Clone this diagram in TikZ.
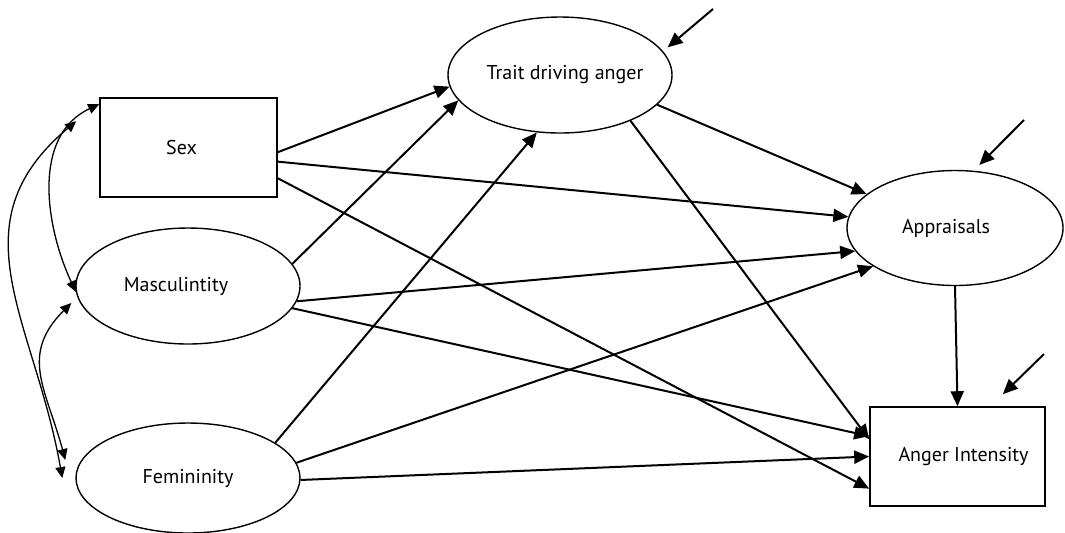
\documentclass[tikz,border=0pt]{standalone}
\usepackage{fontspec}
\setmainfont{PT Sans}
\usetikzlibrary{shapes.geometric,arrows.meta}
\begin{document}
\begin{tikzpicture}[x=0.5pt,y=-0.5pt,
    latent/.style={ellipse,draw,line width=0.7pt,inner sep=0pt,font=\fontsize{10}{12}\selectfont},
    obs/.style={rectangle,draw,line width=0.8pt,inner sep=0pt,font=\fontsize{10}{12}\selectfont},
    pth/.style={-{Triangle[length=7.5pt,width=6.5pt]},line width=1pt},
    cov/.style={{Triangle[length=5.5pt,width=5pt]}-{Triangle[length=5.5pt,width=5pt]},line width=0.65pt}]
    \useasboundingbox (0,0) rectangle (1065,532);
    % variables
    \node[obs,minimum width=88.5pt,minimum height=49.5pt] (sex) at (188.5,147.5) {\hspace*{-7pt}Sex};
    \node[latent,minimum width=112pt,minimum height=58pt] (masc) at (188,286) {\hspace*{-12pt}Masculintity};
    \node[latent,minimum width=112pt,minimum height=55pt] (fem) at (188,478) {Femininity};
    \node[latent,minimum width=112pt,minimum height=58pt] (trait) at (560,75) {Trait driving anger\hspace*{-5pt}};
    \node[latent,minimum width=108pt,minimum height=57.5pt] (appr) at (955,228) {\hspace*{-9pt}Appraisals};
    \node[obs,minimum width=87.5pt,minimum height=49.5pt] (anger) at (957.5,456.5) {Anger Intensity\hspace*{-6pt}};
    % paths
    \draw[pth] (sex.-3) -- (trait.186);
    \draw[pth] (sex.-9) -- (appr.174);
    \draw[pth] (sex.-19) -- (anger.200);
    \draw[pth] (masc.12) -- (trait.194);
    \draw[pth] (masc.-8) -- (appr.193);
    \draw[pth] (masc.-12) -- (anger.167);
    \draw[pth] (fem.22) -- (trait.248);
    \draw[pth] (fem.8) -- (appr.205);
    \draw[pth] (fem.-1) -- (anger.west);
    \draw[pth] (trait.-17) -- (appr.159);
    \draw[pth] (trait.-33) -- (anger.169);
    \draw[pth] (appr.south) -- (anger.north);
    % covariances
    \draw[cov] ([yshift=-3.5pt]sex.north west) to[out=205,in=115] (masc.183);
    \draw[cov] ([shift={(-23,24)}]sex.north west) to[out=220,in=100,looseness=1.15] ([xshift=-6.5pt]fem.west);
    \draw[cov] ([shift={(-4,17)}]masc.west) to[out=225,in=105,looseness=1.2] ([shift={(-10,-18)}]fem.west);
    % residuals
    \coordinate (etrait) at (713,9);
    \coordinate (eappr) at (1024,120);
    \coordinate (eanger) at (1044,354);
    \draw[pth,shorten >=3pt] (etrait) -- (trait.13);
    \draw[pth,shorten >=4pt] (eappr) -- (appr.72);
    \draw[pth] (eanger) -- ([shift={(-43,-12)}]anger.north east);
\end{tikzpicture}
\end{document}
